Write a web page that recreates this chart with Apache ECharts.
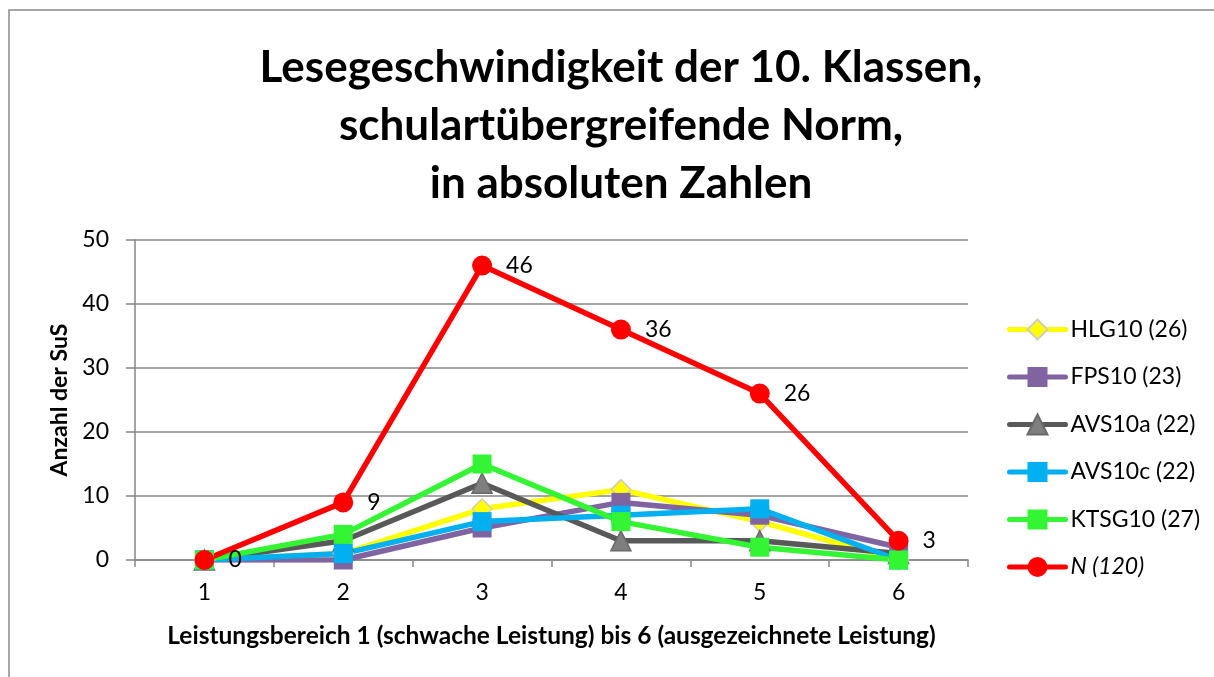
<!DOCTYPE html>
<html><head><meta charset="utf-8">
<script src="https://cdn.jsdelivr.net/npm/echarts@6/dist/echarts.min.js"></script>
<style>html,body{margin:0;padding:0;background:#fff}#c{width:1214px;height:677px}</style>
</head><body><div id="c"></div>
<script>
const categories = ['1','2','3','4','5','6'];
const seriesNames = ['HLG10 (26)','FPS10 (23)','AVS10a (22)','AVS10c (22)','KTSG10 (27)','N (120)'];
const hlg10 = [0, 1, 8, 11, 6, 0];
const fps10 = [0, 0, 5, 9, 7, 2];
const avs10a = [0, 3, 12, 3, 3, 1];
const avs10c = [0, 1, 6, 7, 8, 0];
const ktsg10 = [0, 4, 15, 6, 2, 0];
const nTotal = [0, 9, 46, 36, 26, 3];
const yTicks = [0, 10, 20, 30, 40, 50];

const FONT = 'Lato, "Open Sans", sans-serif';
const chart = echarts.init(document.getElementById('c'));
function mk(name, data, color, symbol, size, mcolor, border, extra) {
  return Object.assign({
    name, type: 'line', data, symbol, symbolSize: size, showSymbol: true,
    lineStyle: { color, width: 5.5, cap: 'round', join: 'round' },
    itemStyle: { color: mcolor || color, borderColor: border || 'transparent', borderWidth: border ? 1.5 : 0 },
    emphasis: { disabled: true }, animation: false
  }, extra || {});
}
chart.setOption({
  backgroundColor: '#fff',
  animation: false,
  title: {
    text: 'Lesegeschwindigkeit der 10. Klassen,\nschulartübergreifende Norm,\nin absoluten Zahlen',
    left: 616, top: 34, textAlign: 'center',
    textStyle: { fontFamily: FONT, fontWeight: 'bold', fontSize: 44, lineHeight: 58, color: '#000' }
  },
  graphic: [{ type: 'rect', shape: { x: 9, y: 10, width: 1300, height: 800 }, style: { fill: 'none', stroke: '#8a8a8a', lineWidth: 1.5 }, silent: true }],
  legend: {
    orient: 'vertical', left: 1002, top: 313, itemGap: 24.5, itemWidth: 56, itemHeight: 25,
    data: seriesNames,
    lineStyle: { width: 5, cap: 'round' },
    formatter: n => n === 'N (120)' ? '{i|' + n + '}' : n,
    textStyle: { fontFamily: FONT, fontSize: 23, color: '#000', rich: { i: { fontStyle: 'italic', fontFamily: FONT, fontSize: 23 } } }
  },
  grid: { left: 135, right: 246, top: 240, bottom: 117, containLabel: false },
  xAxis: {
    type: 'category', data: categories, boundaryGap: true,
    name: 'Leistungsbereich 1 (schwache Leistung) bis 6 (ausgezeichnete Leistung)',
    nameLocation: 'middle', nameGap: 64,
    nameTextStyle: { fontFamily: FONT, fontWeight: 'bold', fontSize: 24.5, color: '#000' },
    axisLine: { lineStyle: { color: '#868686', width: 1.5 } },
    axisTick: { show: true, length: 7, lineStyle: { color: '#868686', width: 1.5 } },
    axisLabel: { fontFamily: FONT, fontSize: 23, color: '#000', margin: 21 }
  },
  yAxis: {
    type: 'value', min: 0, max: 50, interval: 10,
    name: 'Anzahl der SuS', nameLocation: 'middle', nameGap: 64, nameRotate: 90,
    nameTextStyle: { fontFamily: FONT, fontWeight: 'bold', fontSize: 23, color: '#000' },
    axisLine: { show: true, lineStyle: { color: '#868686', width: 1.5 } },
    axisTick: { show: true, length: 9, lineStyle: { color: '#868686', width: 1.5 } },
    splitLine: { lineStyle: { color: '#868686', width: 1.5 } },
    axisLabel: { fontFamily: FONT, fontSize: 23, color: '#000', margin: 26,
      formatter: v => yTicks.includes(v) ? String(v) : '' }
  },
  series: [
    mk(seriesNames[0], hlg10, '#FFFF00', 'diamond', 20, '#FFFF00', '#D0CFC0'),
    mk(seriesNames[1], fps10, '#8064A2', 'rect', 19),
    mk(seriesNames[2], avs10a, '#595959', 'triangle', 20, '#7F7F7F', '#6a6a6a'),
    mk(seriesNames[3], avs10c, '#00B0F0', 'rect', 19),
    mk(seriesNames[4], ktsg10, '#33F533', 'rect', 19),
    mk(seriesNames[5], nTotal, '#FF0000', 'circle', 20, '#FF0000', null, {
      label: { show: true, position: 'right', distance: 14, fontFamily: FONT, fontSize: 23, color: '#000' }
    })
  ]
});
</script></body></html>
